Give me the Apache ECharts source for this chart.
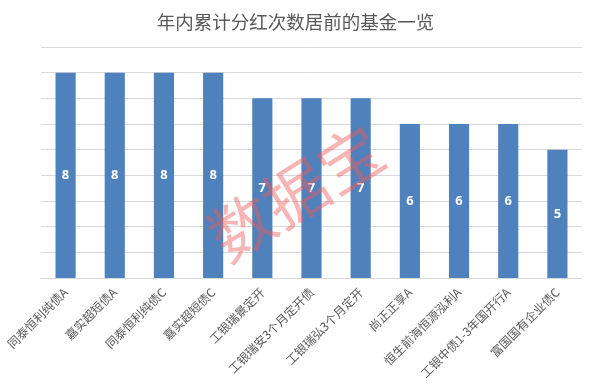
<!DOCTYPE html>
<html><head><meta charset="utf-8">
<script src="https://cdn.jsdelivr.net/npm/echarts@6/dist/echarts.min.js"></script>
<style>html,body{margin:0;padding:0;background:#fff}#c{width:591px;height:387px}</style>
</head><body><div id="c"></div>
<script>
var categories = ['同泰恒利纯债A','嘉实超短债A','同泰恒利纯债C','嘉实超短债C','工银瑞景定开','工银瑞安3个月定开债','工银瑞弘3个月定开','尚正正享A','恒生前海恒源泓利A','工银中债1-3年国开行A','富国国有企业债C'];
var values = [8,8,8,8,7,7,7,6,6,6,5];
var titleText = '年内累计分红次数居前的基金一览';
var watermark = '数据宝';
var chart = echarts.init(document.getElementById('c'));
chart.setOption({
  animation:false,
  title:{text:titleText,left:'center',top:8,textStyle:{fontFamily:'Noto Sans CJK SC',fontSize:18.5,fontWeight:'normal',color:'#595959'}},
  grid:{left:41,right:9,top:47,bottom:109,containLabel:false},
  xAxis:{type:'category',data:categories,
    axisLine:{lineStyle:{color:'#d9d9d9',width:1}},axisTick:{show:false},
    axisLabel:{rotate:45,interval:0,fontFamily:'Noto Sans CJK SC',fontSize:12,color:'#595959',margin:12}},
  yAxis:{type:'value',min:0,max:9,interval:1,axisLabel:{show:false},axisLine:{show:false},axisTick:{show:false},
    splitLine:{lineStyle:{color:'#d9d9d9',width:1}}},
  series:[{type:'bar',data:values,barWidth:'41%',itemStyle:{color:'#4f81bd'},
    label:{show:true,position:'inside',color:'#fff',fontWeight:'bold',fontSize:13,fontFamily:'Noto Sans'}}],
  graphic:[{type:'text',x:296,y:193,rotation:0.56,z:100,
    style:{text:watermark,align:'center',verticalAlign:'middle',font:'normal 64px "Noto Sans CJK SC"',fill:'rgba(238,90,90,0.45)'}}]
});
</script></body></html>
